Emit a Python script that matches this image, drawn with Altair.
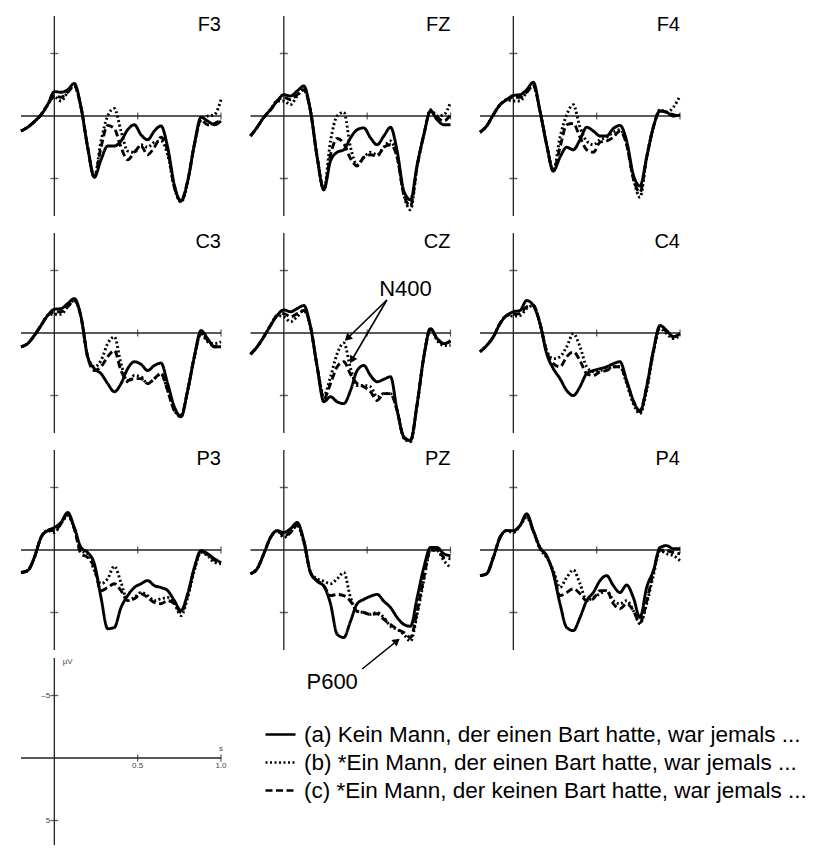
import math
import pandas as pd
import altair as alt

FONT = "Liberation Sans"
AXIS_COLOR = "#222222"

TIME = [-0.2, -0.16, -0.12, -0.08, -0.04, 0.0, 0.04, 0.08, 0.12, 0.16, 0.2,
        0.24, 0.28, 0.32, 0.36, 0.4, 0.44, 0.48, 0.52, 0.56, 0.6, 0.64,
        0.68, 0.72, 0.76, 0.8, 0.84, 0.88, 0.92, 0.96, 1.0]

GRID = [["F3", "FZ", "F4"], ["C3", "CZ", "C4"], ["P3", "PZ", "P4"]]

CONDITIONS = [
    "(a) Kein Mann, der einen Bart hatte, war jemals ...",
    "(b) *Ein Mann, der einen Bart hatte, war jemals ...",
    "(c) *Ein Mann, der keinen Bart hatte, war jemals ...",
]
DASHES = [[1, 0], [2, 2.5], [7, 3.5]]

# amplitudes in microvolt (negative plotted upwards)
F3_A = [1.2, 0.9, 0.45, -0.1, -0.9, -1.95, -1.9, -2.1, -2.6, -0.7, 2.5, 4.9, 3.5, 2.4, 2.4, 2.0, 1.1, 0.7, 1.5, 1.9, 1.2, 0.8, 2.5, 5.5, 6.8, 5.2, 2.3, 0.1, 0.4, 0.7, 0.4]
F3_B = [1.2, 0.9, 0.45, -0.1, -0.9, -1.5, -1.2, -1.9, -2.4, -0.7, 2.5, 4.9, 2.0, 0.0, -0.6, 1.2, 2.8, 2.9, 2.3, 2.5, 2.1, 2.0, 3.1, 5.7, 6.9, 5.3, 2.3, 0.3, 0.0, -0.1, -1.3]
F3_C = [1.2, 0.9, 0.45, -0.1, -0.9, -1.6, -1.5, -1.9, -2.4, -0.7, 2.5, 4.9, 2.5, 0.75, 1.0, 2.5, 3.5, 2.9, 2.4, 3.1, 2.5, 1.7, 2.8, 5.7, 6.8, 5.2, 2.3, 0.3, 0.7, 0.6, 0.3]

FZ_A = [1.6, 0.9, 0.1, -0.5, -1.2, -1.7, -1.6, -2.0, -2.4, -0.4, 3.3, 5.9, 3.6, 2.9, 2.7, 1.75, 1.1, 0.95, 1.75, 2.3, 1.6, 0.9, 2.8, 6.0, 6.7, 3.9, 1.5, -0.4, 0.3, 0.7, 0.7]
FZ_B = [1.6, 0.9, 0.1, -0.5, -1.2, -1.2, -0.9, -1.6, -2.1, -0.4, 3.3, 5.9, 2.0, 0.0, -0.3, 2.5, 3.9, 3.3, 2.9, 3.1, 2.5, 2.0, 3.3, 6.3, 7.5, 4.0, 1.5, -0.5, 0.0, -0.1, -1.1]
FZ_C = [1.6, 0.9, 0.1, -0.5, -1.2, -1.5, -1.3, -1.7, -2.1, -0.4, 3.3, 5.9, 3.1, 1.8, 2.2, 3.4, 4.0, 3.3, 3.1, 3.2, 2.5, 2.3, 3.3, 6.3, 7.2, 4.0, 1.5, -0.4, 0.1, 0.4, -0.1]

F4_A = [1.3, 0.8, -0.1, -0.9, -1.3, -1.65, -1.7, -2.1, -2.7, -0.4, 2.3, 4.4, 3.3, 2.5, 2.7, 1.9, 0.9, 1.2, 1.6, 1.6, 1.0, 0.75, 2.0, 4.7, 5.6, 3.3, 0.9, -0.4, -0.3, 0.0, -0.1]
F4_B = [1.3, 0.8, -0.1, -0.9, -1.3, -1.2, -1.2, -1.9, -2.4, -0.4, 2.3, 4.4, 1.7, -0.1, -0.9, 0.9, 2.0, 2.3, 1.9, 1.7, 1.3, 1.1, 2.3, 5.0, 6.5, 3.3, 0.9, -0.5, -0.3, -0.7, -1.6]
F4_C = [1.3, 0.8, -0.1, -0.9, -1.3, -1.5, -1.5, -1.9, -2.4, -0.4, 2.3, 4.4, 2.5, 0.7, 0.6, 1.7, 2.7, 2.9, 2.1, 2.0, 1.7, 1.2, 2.3, 5.0, 6.1, 3.3, 0.9, -0.4, -0.3, -0.1, 0.0]

C3_A = [1.1, 0.85, 0.2, -0.6, -1.4, -1.9, -1.95, -2.35, -2.75, -1.3, 1.9, 2.85, 3.25, 4.05, 4.7, 4.05, 2.85, 2.3, 2.5, 3.0, 2.6, 2.4, 4.05, 5.9, 6.7, 4.6, 1.9, -0.2, 0.45, 1.1, 1.1]
C3_B = [1.1, 0.85, 0.2, -0.6, -1.4, -1.5, -1.5, -2.1, -2.6, -1.3, 1.9, 2.7, 2.2, 0.85, 0.3, 2.45, 3.9, 3.4, 3.5, 4.05, 3.65, 3.25, 4.6, 6.2, 6.7, 4.6, 1.9, 0.05, 0.7, 0.85, 0.7]
C3_C = [1.1, 0.85, 0.2, -0.6, -1.4, -1.7, -1.7, -2.1, -2.6, -1.3, 1.9, 3.0, 2.7, 1.9, 1.4, 3.0, 3.8, 3.65, 3.65, 4.05, 3.65, 3.25, 4.6, 6.2, 6.6, 4.6, 1.9, 0.0, 0.6, 1.1, 1.1]

CZ_A = [1.7, 1.1, 0.3, -0.6, -1.4, -1.85, -1.7, -1.95, -2.2, -0.5, 2.7, 5.5, 5.1, 5.5, 5.65, 4.6, 3.0, 2.6, 3.4, 3.9, 3.7, 3.5, 6.2, 8.3, 8.6, 5.65, 1.9, -0.35, 0.45, 0.85, 0.6]
CZ_B = [1.7, 1.1, 0.3, -0.6, -1.4, -1.3, -0.9, -1.3, -1.8, -0.5, 2.7, 5.0, 3.5, 1.65, 0.8, 2.8, 4.2, 4.2, 4.3, 5.1, 4.85, 4.85, 6.2, 8.4, 8.7, 5.7, 1.9, -0.35, 0.6, 1.0, 1.0]
CZ_C = [1.7, 1.1, 0.3, -0.6, -1.4, -1.55, -1.3, -1.55, -1.8, -0.5, 2.7, 5.25, 4.05, 2.7, 2.3, 3.3, 4.05, 4.3, 4.7, 5.4, 4.85, 4.85, 6.2, 8.4, 8.6, 5.7, 1.9, -0.35, 0.45, 0.85, 0.7]

C4_A = [1.5, 1.0, 0.3, -0.75, -1.4, -1.7, -1.8, -2.6, -2.2, -0.75, 1.65, 2.85, 3.65, 4.6, 5.0, 4.3, 3.25, 3.0, 2.85, 2.7, 2.45, 2.3, 3.8, 5.4, 6.3, 4.3, 1.4, -0.6, -0.2, 0.3, 0.05]
C4_B = [1.5, 1.0, 0.3, -0.75, -1.4, -1.35, -1.4, -1.95, -2.2, -0.75, 1.4, 2.05, 1.9, 1.1, 0.05, 1.1, 2.7, 3.1, 3.0, 2.9, 2.7, 2.7, 4.05, 5.65, 6.45, 4.6, 1.6, -0.35, 0.05, 0.45, 0.2]
C4_C = [1.5, 1.0, 0.3, -0.75, -1.4, -1.5, -1.55, -2.1, -2.2, -0.75, 1.5, 2.45, 2.7, 1.9, 1.5, 2.2, 3.25, 3.4, 3.1, 3.0, 2.7, 2.7, 3.9, 5.5, 6.2, 4.3, 1.5, -0.5, -0.1, 0.3, 0.1]

P3_A = [1.8, 1.65, 0.6, -1.0, -1.55, -1.8, -2.2, -3.0, -1.8, -0.2, 0.2, 1.1, 3.8, 6.3, 6.2, 4.6, 3.65, 3.0, 2.7, 2.45, 2.85, 3.0, 3.25, 4.05, 4.85, 3.5, 1.4, 0.05, 0.3, 0.7, 1.0]
P3_B = [1.8, 1.65, 0.6, -1.0, -1.55, -1.4, -2.1, -2.75, -1.7, 0.05, 0.3, 1.65, 2.7, 2.3, 1.3, 2.6, 4.05, 3.8, 3.4, 3.65, 4.05, 3.9, 3.8, 4.3, 5.25, 3.8, 1.65, 0.2, 0.45, 1.0, 1.1]
P3_C = [1.8, 1.65, 0.6, -1.0, -1.55, -1.55, -2.1, -2.9, -1.7, 0.3, 0.6, 1.4, 3.25, 3.0, 2.7, 3.25, 4.05, 3.9, 3.5, 3.8, 4.2, 4.3, 4.05, 4.3, 5.0, 3.6, 1.5, 0.1, 0.4, 0.8, 1.05]

PZ_A = [1.9, 1.5, 0.3, -1.0, -1.55, -1.4, -1.7, -2.2, -0.75, 1.8, 2.5, 2.9, 4.3, 6.75, 7.0, 5.7, 4.3, 3.95, 3.7, 3.55, 4.1, 4.6, 5.4, 5.95, 6.1, 3.8, 1.4, -0.2, -0.2, 0.3, 0.45]
PZ_B = [1.9, 1.5, 0.3, -1.0, -1.55, -1.0, -1.4, -1.95, -0.6, 1.8, 2.3, 2.5, 2.7, 2.3, 1.8, 3.8, 4.9, 5.0, 5.15, 5.0, 5.4, 6.1, 6.35, 6.75, 7.3, 5.15, 2.45, 0.05, 0.05, 0.85, 1.4]
PZ_C = [1.9, 1.5, 0.3, -1.0, -1.55, -1.15, -1.4, -2.0, -0.7, 1.8, 2.45, 2.85, 3.65, 3.55, 3.65, 4.1, 4.9, 5.0, 5.15, 5.1, 5.55, 5.95, 6.35, 6.6, 7.0, 4.9, 2.2, 0.0, 0.0, 0.6, 0.7]

P4_A = [2.05, 1.9, 0.6, -1.0, -1.55, -1.55, -1.95, -2.9, -1.55, -0.2, 0.45, 1.9, 4.3, 6.2, 6.45, 5.4, 4.05, 3.4, 2.45, 2.05, 2.85, 3.4, 2.8, 3.8, 5.4, 3.0, 1.65, -0.2, -0.35, -0.1, -0.1]
P4_B = [2.05, 1.9, 0.6, -1.0, -1.55, -1.4, -1.95, -2.6, -1.5, -0.1, 0.6, 1.65, 3.0, 2.2, 1.6, 2.7, 4.05, 3.8, 3.5, 3.25, 4.05, 4.3, 4.05, 4.85, 5.9, 4.3, 2.05, 0.05, 0.3, 0.45, 0.85]
P4_C = [2.05, 1.9, 0.6, -1.0, -1.55, -1.5, -1.95, -2.75, -1.5, -0.15, 0.5, 1.8, 3.65, 3.4, 3.1, 3.5, 4.05, 3.9, 3.25, 3.25, 4.3, 4.7, 4.3, 4.85, 5.8, 4.1, 1.8, 0.0, 0.05, 0.2, 0.3]

SERIES = {
    "F3": (F3_A, F3_B, F3_C), "FZ": (FZ_A, FZ_B, FZ_C), "F4": (F4_A, F4_B, F4_C),
    "C3": (C3_A, C3_B, C3_C), "CZ": (CZ_A, CZ_B, CZ_C), "C4": (C4_A, C4_B, C4_C),
    "P3": (P3_A, P3_B, P3_C), "PZ": (PZ_A, PZ_B, PZ_C), "P4": (P4_A, P4_B, P4_C),
}

# axis frame values
X_EXTENT = [-0.2, 1.0]
Y_EXTENT = [-8, 8]
Y_TICKS = [-5, 5]
X_TICKS = [0.5, 1.0]

# annotations: (text, x, y) and arrows (x1, y1, x2, y2)
N400_TEXT = ("N400", 0.73, -3.56)
N400_ARROWS = [(0.618, -2.64, 0.382, 0.42), (0.618, -2.64, 0.408, 2.16)]
P600_TEXT = ("P600", 0.29, 10.56)
P600_ARROWS = [(0.47, 9.52, 0.678, 7.28)]

# scale (calibration) panel: visible y range and labels
SCALE_Y_DOMAIN = [-7.28, 6.96]
SCALE_LABELS = ["\u00b5V", "\u20135", "5", "0.5", "1.0", "s"]
SCALE_LABEL_X = [0.05, -0.025, -0.025, 0.5, 1.0, 1.0]
SCALE_LABEL_Y = [-7.7, -5, 5, 0.6, 0.6, -0.75]
SCALE_LABEL_ALIGN = ["left", "right", "right", "center", "center", "center"]

PANEL_W, PANEL_H = 200, 200
PX_PER_S = PANEL_W / (X_EXTENT[1] - X_EXTENT[0])
PX_PER_UV = PANEL_H / (Y_EXTENT[1] - Y_EXTENT[0])

rows = []
for el, triple in SERIES.items():
    for cond, vals in zip(CONDITIONS, triple):
        assert len(vals) == len(TIME), (el, cond, len(vals))
        for t, v in zip(TIME, vals):
            rows.append({"electrode": el, "cond": cond, "t": t, "v": v})
waves = pd.DataFrame(rows)

XS = alt.Scale(domain=X_EXTENT, nice=False, zero=False)


def yscale(lo, hi):
    return alt.Scale(domain=[lo, hi], nice=False, zero=False, reverse=True)


DASH_SCALE = alt.Scale(domain=CONDITIONS, range=DASHES)
LEGEND = alt.Legend(
    title=None, orient="none", legendX=243, legendY=702, direction="vertical",
    symbolType="stroke", symbolSize=900, symbolStrokeWidth=2.6,
    symbolStrokeColor="black", labelFont=FONT, labelFontSize=22.5,
    labelColor="black", labelLimit=800, labelOffset=7, rowPadding=0, padding=0,
)


def frame(ys, y_lo, y_hi):
    h = alt.Chart(pd.DataFrame({"x": [X_EXTENT[0]], "x2": [X_EXTENT[1]], "y": [0.0]})).mark_rule(
        color=AXIS_COLOR, strokeWidth=1.3
    ).encode(x=alt.X("x:Q", scale=XS, axis=None), x2="x2:Q", y=alt.Y("y:Q", scale=ys, axis=None))
    v = alt.Chart(pd.DataFrame({"x": [0.0], "y": [y_lo], "y2": [y_hi]})).mark_rule(
        color=AXIS_COLOR, strokeWidth=1.3
    ).encode(x=alt.X("x:Q", scale=XS, axis=None), y=alt.Y("y:Q", scale=ys, axis=None), y2="y2:Q")
    yt = alt.Chart(pd.DataFrame({"x": [0.0] * len(Y_TICKS), "y": Y_TICKS})).mark_tick(
        orient="horizontal", size=8, thickness=1.3, color=AXIS_COLOR
    ).encode(x=alt.X("x:Q", scale=XS, axis=None), y=alt.Y("y:Q", scale=ys, axis=None))
    xt = alt.Chart(pd.DataFrame({"x": X_TICKS, "y": [0.0] * len(X_TICKS)})).mark_tick(
        orient="vertical", size=7, thickness=1.3, color=AXIS_COLOR
    ).encode(x=alt.X("x:Q", scale=XS, axis=None), y=alt.Y("y:Q", scale=ys, axis=None))
    return [h, v, yt, xt]


def arrow_layers(arrows, ys):
    seg = pd.DataFrame([{"x": a[0], "y": a[1], "x2": a[2], "y2": a[3]} for a in arrows])
    heads = pd.DataFrame([
        {"x": a[2], "y": a[3],
         "ang": math.degrees(math.atan2((a[2] - a[0]) * PX_PER_S, -(a[3] - a[1]) * PX_PER_UV)) % 360}
        for a in arrows
    ])
    line = alt.Chart(seg).mark_rule(color="black", strokeWidth=1.6).encode(
        x=alt.X("x:Q", scale=XS, axis=None), y=alt.Y("y:Q", scale=ys, axis=None),
        x2="x2:Q", y2="y2:Q")
    head = alt.Chart(heads).mark_point(shape="triangle-up", filled=True, size=70, color="black", opacity=1).encode(
        x=alt.X("x:Q", scale=XS, axis=None), y=alt.Y("y:Q", scale=ys, axis=None),
        angle=alt.Angle("ang:Q", scale=None))
    return [line, head]


def text_layer(label, x, y, ys, align="center", size=22):
    return alt.Chart(pd.DataFrame({"x": [x], "y": [y], "label": [label]})).mark_text(
        font=FONT, fontSize=size, align=align, baseline="middle", color="black"
    ).encode(x=alt.X("x:Q", scale=XS, axis=None), y=alt.Y("y:Q", scale=ys, axis=None), text="label:N")


def panel(name):
    ys = yscale(*Y_EXTENT)
    lines = alt.Chart(waves).transform_filter(alt.datum.electrode == name).mark_line(
        color="black", strokeWidth=2.9, interpolate="monotone", clip=False
    ).encode(
        x=alt.X("t:Q", scale=XS, axis=None),
        y=alt.Y("v:Q", scale=ys, axis=None),
        strokeDash=alt.StrokeDash("cond:N", scale=DASH_SCALE, legend=LEGEND),
        detail="cond:N",
        order="t:Q",
    )
    layers = frame(ys, *Y_EXTENT) + [lines, text_layer(name, X_EXTENT[1], -7.25, ys, align="right", size=20)]
    if name == "CZ":
        layers += arrow_layers(N400_ARROWS, ys) + [text_layer(*N400_TEXT, ys)]
    if name == "PZ":
        layers += arrow_layers(P600_ARROWS, ys) + [text_layer(*P600_TEXT, ys)]
    return alt.layer(*layers).properties(width=PANEL_W, height=PANEL_H)


def scale_panel():
    lo, hi = SCALE_Y_DOMAIN
    ys = yscale(lo, hi)
    lab = pd.DataFrame({"x": SCALE_LABEL_X, "y": SCALE_LABEL_Y, "label": SCALE_LABELS,
                        "align": SCALE_LABEL_ALIGN})
    texts = []
    for al in ["left", "right", "center"]:
        texts.append(
            alt.Chart(lab).transform_filter(alt.datum.align == al).mark_text(
                font=FONT, fontSize=8, align=al, baseline="middle", color="#444444"
            ).encode(x=alt.X("x:Q", scale=XS, axis=None), y=alt.Y("y:Q", scale=ys, axis=None), text="label:N")
        )
    # the vertical axis starts a little above the visible range, like the reference
    return alt.layer(*(frame(ys, Y_EXTENT[0], hi) + texts)).properties(
        width=PANEL_W, height=(hi - lo) * PX_PER_UV)


panels = [panel(n) for r in GRID for n in r] + [scale_panel()]

chart = alt.concat(
    *panels, columns=3, spacing={"row": 17, "column": 29.5}, bounds="flush"
).properties(
    padding={"left": 7, "top": 7, "right": 0, "bottom": 0}
).configure(font=FONT).configure_view(stroke=None)

chart.save("out.html", embed_options={"renderer": "svg", "actions": False})
